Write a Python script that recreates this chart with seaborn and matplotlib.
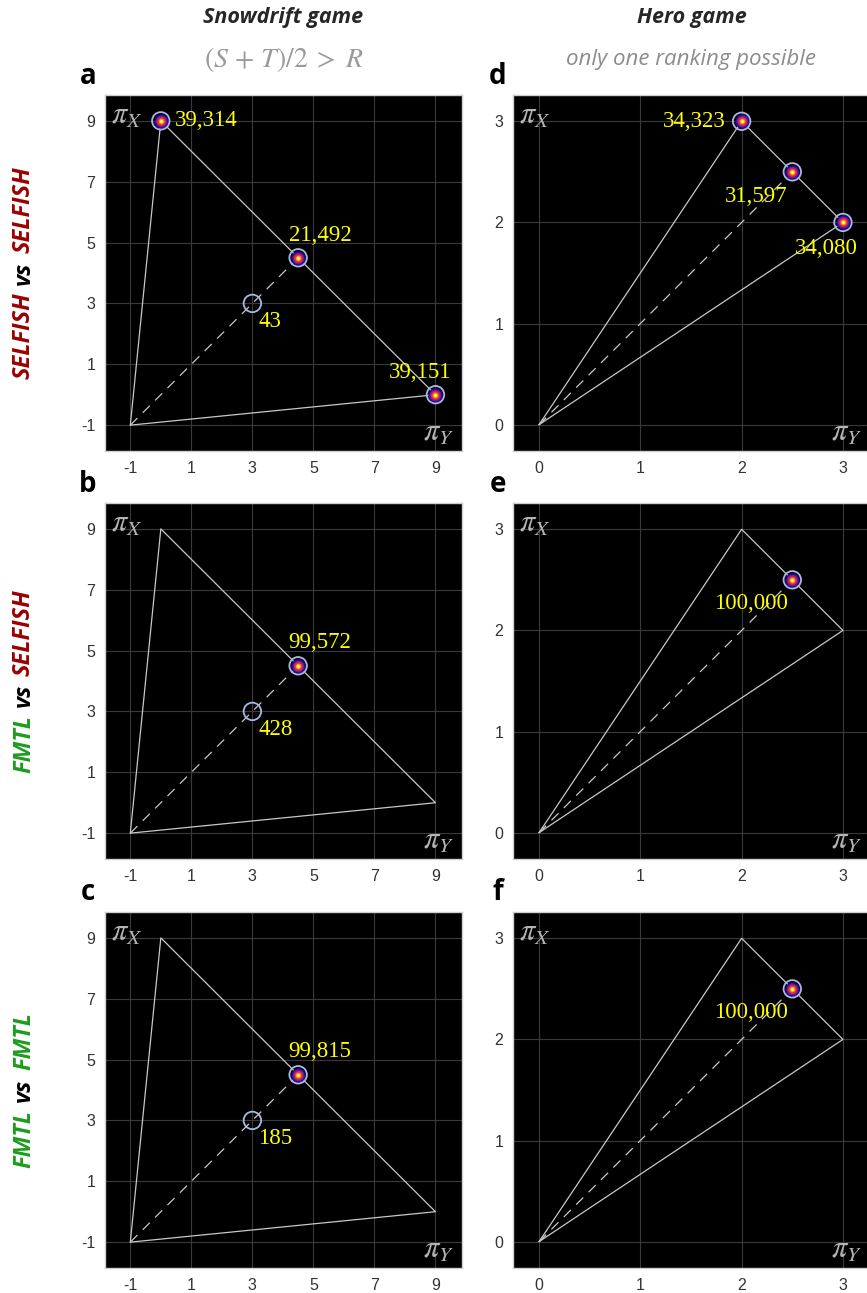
import numpy as np
import pandas as pd
import matplotlib
matplotlib.use("Agg")
import matplotlib.pyplot as plt
import seaborn as sns

# ---------------------------------------------------------------------------
# Data
# ---------------------------------------------------------------------------
# Snowdrift game: triangle of payoffs and the outcome points
snow_tri_x = [-1, 0, 9, -1]
snow_tri_y = [-1, 9, 0, -1]
snow_diag_x = [-1, 4.5]
snow_diag_y = [-1, 4.5]
snow_pts_x = [0, 4.5, 9, 3]
snow_pts_y = [9, 4.5, 0, 3]
counts_a = [39314, 21492, 39151, 43]
counts_b = [0, 99572, 0, 428]
counts_c = [0, 99815, 0, 185]
snow_ticks = [-1, 1, 3, 5, 7, 9]

# Hero game
hero_tri_x = [0, 2, 3, 0]
hero_tri_y = [0, 3, 2, 0]
hero_diag_x = [0, 2.5]
hero_diag_y = [0, 2.5]
hero_pts_x = [2, 2.5, 3]
hero_pts_y = [3, 2.5, 2]
counts_d = [34323, 31597, 34080]
counts_e = [0, 100000, 0]
counts_f = [0, 100000, 0]
hero_ticks = [0, 1, 2, 3]

row_labels = [
    [("SELFISH", "#9c0000"), ("vs", "black"), ("SELFISH", "#9c0000")],
    [("FMTL", "#1c9c1c"), ("vs", "black"), ("SELFISH", "#9c0000")],
    [("FMTL", "#1c9c1c"), ("vs", "black"), ("FMTL", "#1c9c1c")],
]

# label offsets (pixels) for each count, per panel
offs_snow = {
    "a": [((14, 0), "left"), ((22, 22), "center"), ((-15, 22), "center"), ((6, -18), "left")],
    "b": [None, ((22, 23), "center"), None, ((6, -18), "left")],
    "c": [None, ((22, 23), "center"), None, ((6, -18), "left")],
}
offs_hero = {
    "d": [((-16, 0), "right"), ((-36, -25), "center"), ((-17, -26), "center")],
    "e": [None, ((-41, -24), "center"), None],
    "f": [None, ((-41, -24), "center"), None],
}

# ---------------------------------------------------------------------------
sns.set_theme(style="darkgrid", rc={
    "axes.facecolor": "black",
    "grid.color": "#3a3a3a",
    "grid.linewidth": 0.8,
    "axes.edgecolor": "#cfcfcf",
    "axes.linewidth": 1.0,
})
plt.rcParams["font.family"] = ["Liberation Sans", "DejaVu Sans"]

W, H = 867, 1293
fig = plt.figure(figsize=(W / 100, H / 100), dpi=100)

AX_W = 357
AX_H = 356
left_x = 105
right_x = 513
tops = [95, 503, 912]

blob_layers = [
    (14.5, "#1d0c78"),
    (12.0, "#6a12a8"),
    (9.5, "#c01c7c"),
    (7.5, "#ee3a22"),
    (5.5, "#ff9a00"),
    (3.5, "#ffe830"),
    (2.0, "#ffffe0"),
]


def px2s(d):
    return (d * 0.72) ** 2


def make_axes(x0, top):
    return fig.add_axes([x0 / W, 1 - (top + AX_H) / H, AX_W / W, AX_H / H])


def draw_panel(ax, tri_x, tri_y, diag_x, diag_y, pts_x, pts_y, counts, offs,
               xlim, ylim, ticks):
    sns.lineplot(x=tri_x, y=tri_y, sort=False, estimator=None, ax=ax,
                 color="#c8c8c8", linewidth=0.9, zorder=2)
    sns.lineplot(x=diag_x, y=diag_y, sort=False, estimator=None, ax=ax,
                 color="#c8c8c8", linewidth=0.9, linestyle=(0, (8, 6)), zorder=2)
    df = pd.DataFrame({"x": pts_x, "y": pts_y, "n": counts})
    big = df[df["n"] >= 1000]
    seen = df[df["n"] > 0]
    for d, c in blob_layers:
        sns.scatterplot(data=big, x="x", y="y", s=px2s(d), color=c,
                        linewidth=0, ax=ax, zorder=3)
    sns.scatterplot(data=seen, x="x", y="y", s=px2s(17.5), facecolors="none",
                    edgecolor="#a9b9e4", linewidth=1.3, ax=ax, zorder=4)
    for i, row in df.iterrows():
        if offs[i] is None or row["n"] <= 0:
            continue
        (dx, dy), ha = offs[i]
        ax.annotate(f"{int(row['n']):,}", (row["x"], row["y"]),
                    xytext=(dx, dy), textcoords="offset pixels",
                    ha=ha, va="center", color="#ffff00", fontsize=16.5,
                    family="Liberation Serif", zorder=5)
    ax.set_xlim(xlim)
    ax.set_ylim(ylim)
    ax.set_xticks(ticks)
    ax.set_yticks(ticks)
    ax.set_xticklabels([str(t) for t in ticks])
    ax.set_yticklabels([str(t) for t in ticks])
    ax.tick_params(length=0, pad=7, labelsize=11.5, labelcolor="#333333")
    ax.set_xlabel("")
    ax.set_ylabel("")
    ax.text(0.018, 0.985, r"$\pi_X$", transform=ax.transAxes, ha="left", va="top",
            color="#b4b4b4", fontsize=22, math_fontfamily="stix")
    ax.text(0.978, 0.01, r"$\pi_Y$", transform=ax.transAxes, ha="right", va="bottom",
            color="#b4b4b4", fontsize=22, math_fontfamily="stix")
    for sp in ax.spines.values():
        sp.set_visible(True)
        sp.set_color("#cfcfcf")


snow_counts = [counts_a, counts_b, counts_c]
hero_counts = [counts_d, counts_e, counts_f]
left_letters = ["a", "b", "c"]
right_letters = ["d", "e", "f"]

for r in range(3):
    axl = make_axes(left_x, tops[r])
    draw_panel(axl, snow_tri_x, snow_tri_y, snow_diag_x, snow_diag_y,
               snow_pts_x, snow_pts_y, snow_counts[r], offs_snow[left_letters[r]],
               (-1.83, 9.87), (-1.85, 9.85), snow_ticks)
    axr = make_axes(right_x, tops[r])
    draw_panel(axr, hero_tri_x, hero_tri_y, hero_diag_x, hero_diag_y,
               hero_pts_x, hero_pts_y, hero_counts[r], offs_hero[right_letters[r]],
               (-0.257, 3.267), (-0.26, 3.26), hero_ticks)
    # panel letters
    fig.text((left_x - 17) / W, 1 - (tops[r] - 19) / H, left_letters[r],
             ha="center", va="center", fontsize=20, fontweight="bold",
             family="Open Sans", color="black")
    fig.text((right_x - 15) / W, 1 - (tops[r] - 19) / H, right_letters[r],
             ha="center", va="center", fontsize=20, fontweight="bold",
             family="Open Sans", color="black")

# column titles
cx_left = (left_x + AX_W / 2) / W
cx_right = (right_x + AX_W / 2) / W
fig.text(cx_left, 1 - 17 / H, "Snowdrift game", ha="center", va="center",
         fontsize=15.5, fontweight="bold", fontstyle="italic", family="Open Sans")
fig.text(cx_right, 1 - 17 / H, "Hero game", ha="center", va="center",
         fontsize=15.5, fontweight="bold", fontstyle="italic", family="Open Sans")
fig.text(cx_left, 1 - 60 / H, r"$(S\,+\,T)/2\;>\;R$", ha="center", va="center",
         fontsize=20, color="#9a9a9a", math_fontfamily="stix")
fig.text(cx_right, 1 - 60 / H, "only one ranking possible", ha="center",
         va="center", fontsize=16, fontstyle="italic", color="#8c8c8c",
         family="Open Sans")

# row labels built from coloured pieces, stacked bottom to top
renderer = fig.canvas.get_renderer()
gap = 8
for r, parts in enumerate(row_labels):
    y_mid = tops[r] + AX_H / 2
    pieces = []
    for s, c in parts:
        t = fig.text(24 / W, 0, s, rotation=90, ha="center", va="bottom",
                     color=c, fontsize=17, fontweight="bold",
                     fontstyle="italic", family="Open Sans")
        pieces.append(t)
    heights = [t.get_window_extent(renderer).height for t in pieces]
    total = sum(heights) + gap * (len(pieces) - 1)
    y = (H - y_mid) - total / 2
    for t, h in zip(pieces, heights):
        t.set_y(y / H)
        y += h + gap

fig.savefig("out.png", dpi=100, facecolor="white")
